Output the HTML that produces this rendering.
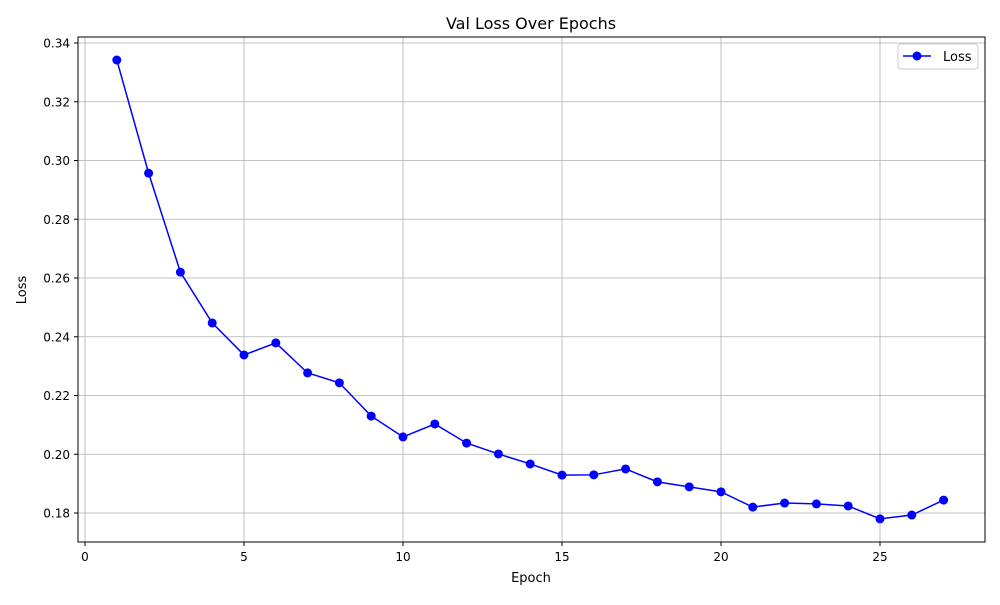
<!DOCTYPE html>
<html><head><meta charset="utf-8"><style>
body{margin:0;background:#fff;}
svg text{font-family:"DejaVu Sans","Liberation Sans",sans-serif;fill:#000;}
</style></head><body>
<svg id="chart" width="1000" height="600" xmlns="http://www.w3.org/2000/svg">
<rect x="0" y="0" width="1000" height="600" fill="#fff"/>
<g id="grid"></g>
<rect x="78" y="37" width="907" height="505" fill="none" stroke="#000" stroke-width="1"/>
<g id="axes"></g>
<g id="series"></g>
<text x="531" y="29" font-size="16" text-anchor="middle">Val Loss Over Epochs</text>
<text x="531" y="582" font-size="13" text-anchor="middle">Epoch</text>
<text x="26" y="290" font-size="13" text-anchor="middle" transform="rotate(-90 26 290)">Loss</text>
<g>
<rect x="898" y="44" width="80" height="25" fill="#fff" stroke="#ccc" rx="3"/>
<line x1="903" y1="56" x2="931" y2="56" stroke="#0000ff" stroke-width="1.5"/>
<circle cx="917" cy="56" r="4.5" fill="#0000ff"/>
<text x="943" y="61" font-size="13">Loss</text>
</g>
</svg>
<script>
const epochs=[1,2,3,4,5,6,7,8,9,10,11,12,13,14,15,16,17,18,19,20,21,22,23,24,25,26,27];
const losses=[0.3342,0.2957,0.2620,0.2447,0.2338,0.2379,0.2277,0.2243,0.2130,0.2059,0.2103,0.2038,0.2001,0.1967,0.1929,0.1930,0.1950,0.1906,0.1889,0.1872,0.1820,0.1834,0.1831,0.1824,0.1780,0.1793,0.1844];
const xTicks=[0,5,10,15,20,25];
const yTicks=[0.18,0.20,0.22,0.24,0.26,0.28,0.30,0.32,0.34];
const NS="http://www.w3.org/2000/svg";
const xs=v=>85+v*31.8;
const ys=v=>513-(v-0.18)/0.02*58.75;
const grid=document.getElementById('grid'),axes=document.getElementById('axes'),series=document.getElementById('series');
function mk(tag,attrs,parent){const e=document.createElementNS(NS,tag);for(const k in attrs)e.setAttribute(k,attrs[k]);parent.appendChild(e);return e;}
xTicks.forEach(t=>{const x=xs(t);
const g=mk('line',{x1:x,x2:x,y1:37,y2:542,stroke:'#b0b0b0','stroke-width':0.8},grid);


mk('line',{x1:x,x2:x,y1:542,y2:546,stroke:'#000'},axes);
const tx=mk('text',{x:x,y:561,'font-size':12,'text-anchor':'middle'},axes);tx.textContent=t;

});
yTicks.forEach(t=>{const y=ys(t);
const g=mk('line',{x1:78,x2:985,y1:y,y2:y,stroke:'#b0b0b0','stroke-width':0.8},grid);


mk('line',{x1:74,x2:78,y1:y,y2:y,stroke:'#000'},axes);
const tx=mk('text',{x:70,y:y+4.5,'font-size':12,'text-anchor':'end'},axes);tx.textContent=t.toFixed(2);

});
const pts=epochs.map((e,i)=>xs(e)+','+ys(losses[i])).join(' ');
const pl=mk('polyline',{points:pts,fill:'none',stroke:'#0000ff','stroke-width':1.5},series);


epochs.forEach((e,i)=>{const c=mk('circle',{cx:xs(e),cy:ys(losses[i]),r:4.5,fill:'#0000ff'},series);

});
</script>
</body></html>
